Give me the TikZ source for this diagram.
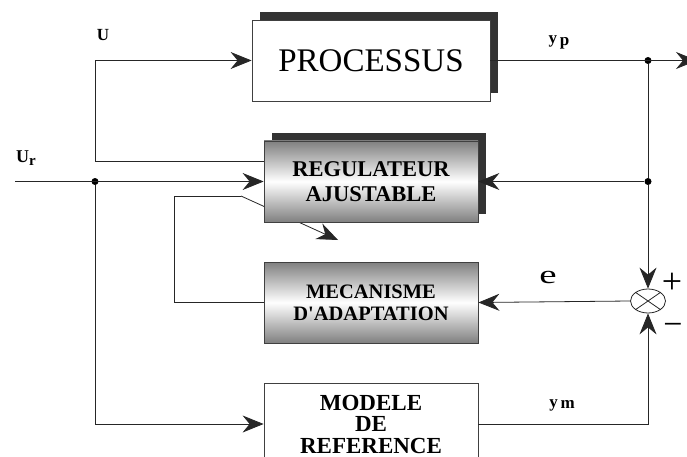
\documentclass[tikz,border=0pt]{standalone}
\usepackage{fontspec}
\setmainfont{Liberation Serif}
\usetikzlibrary{arrows.meta,shapes.geometric,shadows,backgrounds}

\begin{document}
\begin{tikzpicture}[
  x=1pt,y=-1pt,
  line/.style={draw=black!85,line width=0.8pt},
  arr/.style={line,-{Stealth[length=21pt,width=17pt,inset=7pt]}},
  blk/.style={draw=black!75,line width=0.8pt,inner sep=0pt,minimum width=214pt,minimum height=81pt,align=center},
  shade/.style={top color=black!50,bottom color=black!50,middle color=white},
  shdw/.style={drop shadow={shadow xshift=8pt,shadow yshift=8pt,fill=black!80,opacity=1}},
  dot/.style={circle,fill=black,inner sep=0pt,minimum size=7pt},
  lbl/.style={font=\fontsize{17}{17}\selectfont\bfseries}
]
\useasboundingbox (0,0) rectangle (687,457);

% blocs
\node[blk,shdw,fill=white,minimum width=238pt,font=\fontsize{33}{33}\selectfont] (proc) at (371,60.5) {PROCESSUS};
\node[blk,shdw,shade,font=\fontsize{22.5}{25}\selectfont\bfseries] (reg) at (371,181.5) {REGULATEUR\\AJUSTABLE};
\node[blk,shade,font=\fontsize{20.5}{22}\selectfont\bfseries] (meca) at (371,302.5) {MECANISME\\D\textquotesingle ADAPTATION};
\node[blk,fill=white,minimum height=82pt,font=\fontsize{23}{21.5}\selectfont\bfseries] (model) at (371,424) {MODELE\\DE\\REFERENCE};
\node[ellipse,draw=black!85,line width=0.8pt,minimum width=35pt,minimum height=24pt,inner sep=0pt] (sum) at (648,301) {};
\draw[line] (sum.north west) -- (sum.south east) (sum.north east) -- (sum.south west);

% points
\coordinate (urin) at (15,181.5);
\node[dot] (j1) at (95,181.5) {};
\node[dot] (jp) at (648,60.5) {};
\node[dot] (jr) at (648,181.5) {};
\coordinate (out) at (697,60.5);
\coordinate (fb) at (174,196);
\coordinate (fbk) at (241,196);
\coordinate (gain) at (338,240);

% liaisons
\draw[arr] ([yshift=20.5pt]reg.west) -- ([yshift=20.5pt]reg.west -| j1) |- (proc.west);
\draw[arr] (urin) -- (reg.west);
\draw[arr] (j1) |- (model.west);
\draw[arr] (proc.east) -- (out);
\draw[line] (jp) -- (jr);
\draw[arr] (jr) -- (reg.east);
\draw[arr] (jr) -- (sum.north);
\draw[arr] (sum.west) -- (meca.east);
\draw[arr] (model.east) -| (sum.south);
\begin{scope}[on background layer]
\draw[line] (meca.west) -| (fb) -- (fbk);
\draw[arr] (fbk) -- (gain);
\end{scope}

% textes
\node[lbl] (lu) at (103,35) {U};
\node[lbl,font=\fontsize{18}{18}\selectfont\bfseries] (lur) at (26,158) {U\raisebox{-3pt}{\fontsize{15}{15}\selectfont r}};
\node[lbl] (lyp) at (559,42) {y\,\raisebox{-2pt}{p}};
\node[lbl] (lym) at (562,405) {y\,\raisebox{-1pt}{m}};
\node[font=\fontsize{26}{26}\selectfont] (le) at (548,277) {\scalebox{1.5}[1]{e}};
\node[font=\fontsize{36}{36}\selectfont] (lplus) at (672,283) {+};
\node[font=\fontsize{34}{34}\selectfont] (lminus) at (673,329) {−};
\end{tikzpicture}
\end{document}
